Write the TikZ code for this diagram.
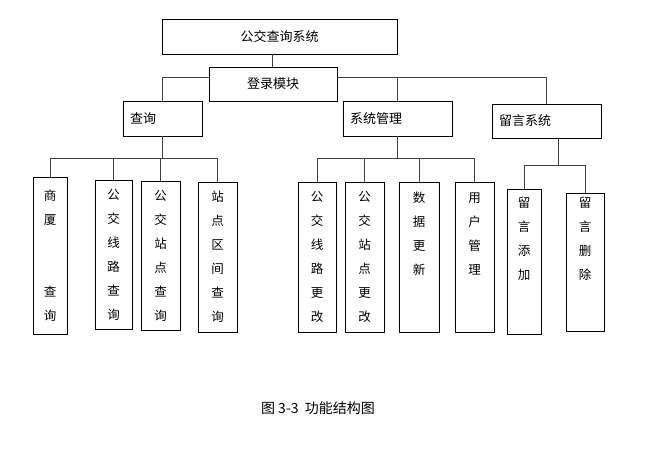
\documentclass[tikz,border=0pt]{standalone}
\usepackage{fontspec}
\newfontfamily\cjk{Noto Sans CJK SC}
\begin{document}
\begin{tikzpicture}[x=1pt,y=-1pt,
  bx/.style={draw,line width=0.9pt,inner sep=0pt,font=\cjk\fontsize{13}{13}\selectfont},
  vt/.style={bx,align=center,font=\cjk\fontsize{12.5}{24}\selectfont},
  ln/.style={line width=0.9pt,draw=black!75}]
\useasboundingbox (0,0) rectangle (645,451);
\node[bx,minimum width=235,minimum height=35] (top) at (279.5,36.5) {公交查询系统};
\node[bx,minimum width=128,minimum height=34] (login) at (273,84) {登录模块};
\node[bx,minimum width=79,minimum height=35,text width=65] (q) at (162.5,118.5) {查询};
\node[bx,minimum width=109,minimum height=35,text width=95] (m) at (397.5,118.5) {系统管理};
\node[bx,minimum width=109,minimum height=34,text width=95] (l) at (546.5,121) {留言系统};
\node[vt,minimum width=34,minimum height=157] (a1) at (50,255.5) {商\\厦\\ \\ \\查\\询};
\node[vt,minimum width=37,minimum height=149] (a2) at (113.5,254.5) {公\\交\\线\\路\\查\\询};
\node[vt,minimum width=39,minimum height=149] (a3) at (160.5,255.5) {公\\交\\站\\点\\查\\询};
\node[vt,minimum width=39,minimum height=150] (a4) at (217.5,257) {站\\点\\区\\间\\查\\询};
\node[vt,minimum width=38,minimum height=150] (b1) at (317,257) {公\\交\\线\\路\\更\\改};
\node[vt,minimum width=39,minimum height=150] (b2) at (364.5,257) {公\\交\\站\\点\\更\\改};
\node[vt,minimum width=40,minimum height=150,anchor=north] (b3) at (419,182) {数\\据\\更\\新\\ \\ };
\node[vt,minimum width=39,minimum height=150,anchor=north] (b4) at (474.5,182) {用\\户\\管\\理\\ \\ };
\node[vt,minimum width=34,minimum height=145,anchor=north] (c1) at (524,189) {留\\言\\添\\加\\ \\ };
\node[vt,minimum width=38,minimum height=138,anchor=north] (c2) at (585,193) {留\\言\\删\\除\\ \\ };
\node[font=\cjk\fontsize{14}{14}\selectfont] (cap) at (318,408) {图 3-3\ \ 功能结构图};
\draw[ln] (272,0|-top.south) -- (272,0|-login.north);
\draw[ln] (login.west|-0,77) -| (q.north);
\draw[ln] (login.east|-0,77) -| (l.north);
\draw[ln] (m.north) -- (m.north|-0,77);
\draw[ln] (q.south) -- (q.south|-0,158);
\draw[ln] (a1.north) |- (a4.north|-0,158) -- (a4.north);
\draw[ln] (a2.north) -- (a2.north|-0,158);
\draw[ln] (a3.north) -- (a3.north|-0,158);
\draw[ln] (m.south) -- (m.south|-0,158);
\draw[ln] (b1.north) |- (b4.north|-0,158) -- (b4.north);
\draw[ln] (b2.north) -- (b2.north|-0,158);
\draw[ln] (b3.north) -- (b3.north|-0,158);
\draw[ln] (l.south-|558,0) -- (558,165);
\draw[ln] (c1.north) |- (c2.north|-0,165) -- (c2.north);
\end{tikzpicture}
\end{document}
